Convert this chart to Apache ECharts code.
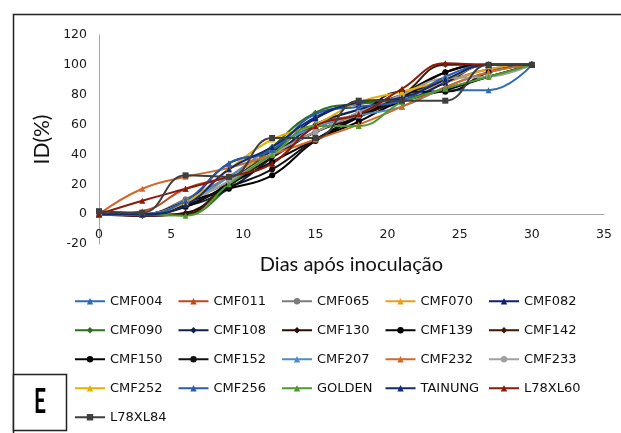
<!DOCTYPE html>
<html>
<head>
<meta charset="utf-8">
<script src="https://cdn.jsdelivr.net/npm/echarts@6/dist/echarts.min.js"></script>
<style>html,body{margin:0;padding:0;background:#fff;}#c{width:621px;height:433px;}</style>
</head>
<body>
<div id="c"></div>
<script>
const days = [0, 3, 6, 9, 12, 15, 18, 21, 24, 27, 30];
const seriesNames = ['CMF004','CMF011','CMF065','CMF070','CMF082','CMF090','CMF108','CMF130','CMF139','CMF142','CMF150','CMF152','CMF207','CMF232','CMF233','CMF252','CMF256','GOLDEN','TAINUNG','L78XL60','L78XL84'];
const seriesColors = ['#2E6DB4','#C0461A','#7B7B7B','#E3A21A','#0E1F6E','#2E6E1F','#10204A','#2A0D05','#000000','#3A1A05','#050505','#111111','#4E8CC9','#D2692A','#A0A0A0','#E5B000','#2A5CAA','#4E9A2E','#132A72','#8B1A0A','#3F3F3F'];
const CMF004 = [0, 0, 9, 22, 43, 60, 70, 76, 83, 83, 100];
const CMF011 = [0, 2, 17, 25, 34, 59, 67, 78, 95, 100, 100];
const CMF065 = [0, 0, 10, 25, 42, 55, 67, 75, 88, 97, 100];
const CMF070 = [0, 0, 5, 25, 40, 50, 67, 79, 88, 97, 100];
const CMF082 = [0, 0, 8, 34, 42, 64, 74, 76, 88, 100, 100];
const CMF090 = [0, 0, 0, 18, 45, 68, 74, 76, 84, 92, 100];
const CMF108 = [0, 0, 5, 17, 38, 60, 70, 80, 90, 100, 100];
const CMF130 = [0, -1, 1, 20, 38, 55, 65, 78, 95, 100, 100];
const CMF139 = [0, 0, 8, 17, 26, 49, 62, 76, 83, 92, 100];
const CMF142 = [0, -1, 0, 22, 40, 55, 68, 80, 100, 100, 100];
const CMF150 = [0, 0, 5, 20, 35, 50, 65, 80, 95, 100, 100];
const CMF152 = [0, 0, 6, 18, 30, 50, 66, 82, 82, 95, 100];
const CMF207 = [0, 0, 8, 25, 45, 58, 66, 72, 85, 95, 100];
const CMF232 = [0, 17, 25, 31, 40, 50, 60, 72, 85, 95, 100];
const CMF233 = [0, 0, 8, 22, 40, 55, 68, 80, 91, 92, 100];
const CMF252 = [0, 0, 8, 30, 50, 60, 75, 82, 90, 100, 100];
const CMF256 = [0, 0, 9, 34, 43, 67, 72, 76, 92, 100, 100];
const GOLDEN = [0, 0, -1, 20, 40, 59, 59, 75, 84, 92, 100];
const TAINUNG = [0, 0, 6, 30, 45, 65, 75, 78, 90, 100, 100];
const L78XL60 = [0, 9, 17, 25, 34, 59, 67, 84, 101, 100, 100];
const L78XL84 = [2, 1, 26, 25, 51, 51, 76, 76, 76, 100, 100];
const seriesValues = [CMF004,CMF011,CMF065,CMF070,CMF082,CMF090,CMF108,CMF130,CMF139,CMF142,CMF150,CMF152,CMF207,CMF232,CMF233,CMF252,CMF256,GOLDEN,TAINUNG,L78XL60,L78XL84];
const xTicks = [0, 5, 10, 15, 20, 25, 30, 35];
const yTicks = [-20, 0, 20, 40, 60, 80, 100, 120];

const FONT = '"DejaVu Sans", sans-serif';
const FONT2 = '"Lato", sans-serif';
const symbols = ['triangle','triangle','circle','triangle','triangle','diamond','diamond','diamond','circle','diamond','circle','circle','triangle','triangle','circle','triangle','triangle','triangle','triangle','triangle','rect'];

const chart = echarts.init(document.getElementById('c'), null, {renderer: 'canvas'});
const series = seriesNames.map((n, i) => ({
  name: n,
  type: 'line',
  smooth: 0.45,
  data: days.map((d, j) => [d, seriesValues[i][j]]),
  symbol: symbols[i],
  symbolSize: 6,
  showSymbol: true,
  lineStyle: {width: 2, color: seriesColors[i]},
  itemStyle: {color: seriesColors[i]},
  emphasis: {disabled: true}
}));

chart.setOption({
  animation: false,
  backgroundColor: '#fff',
  grid: {left: 99, right: 17, top: 35, height: 209, containLabel: false},
  xAxis: {
    type: 'value', min: xTicks[0], max: xTicks[xTicks.length - 1], interval: 5,
    axisLine: {onZero: true, lineStyle: {color: '#A6A6A6', width: 1}},
    axisTick: {show: false},
    splitLine: {show: false},
    axisLabel: {margin: -16, color: '#1a1a1a', fontSize: 12.5, fontFamily: FONT},
    name: 'Dias após inoculação', nameLocation: 'middle', nameGap: 11,
    nameTextStyle: {fontSize: 20, color: '#111', fontFamily: FONT2, verticalAlign: 'top'}
  },
  yAxis: {
    type: 'value', min: yTicks[0], max: yTicks[yTicks.length - 1], interval: 20,
    axisLine: {show: true, onZero: false, lineStyle: {color: '#A6A6A6', width: 1}},
    axisTick: {show: false},
    splitLine: {show: false},
    axisLabel: {margin: 12, color: '#1a1a1a', fontSize: 12.5, fontFamily: FONT},
    name: 'ID(%)', nameLocation: 'middle', nameGap: 36,
    nameTextStyle: {fontSize: 21, color: '#111', fontFamily: FONT2}
  },
  legend: {
    left: 69, top: 285, width: 515,
    itemWidth: 30, itemHeight: 8, itemGap: 6.5,
    textStyle: {fontSize: 13, color: '#111', fontFamily: FONT, width: 61, overflow: 'truncate', ellipsis: '', lineHeight: 22.5},
    data: seriesNames
  },
  graphic: [
    {type: 'rect', silent: true, z: -1, shape: {x: 13.5, y: 14.5, width: 700, height: 500}, style: {fill: 'none', stroke: '#222', lineWidth: 1.5}},
    {type: 'rect', silent: true, z: 100, shape: {x: 13.5, y: 374.5, width: 53, height: 56}, style: {fill: '#fff', stroke: '#222', lineWidth: 1.5}},
    {type: 'text', silent: true, z: 101, x: 40, y: 402, scaleX: 0.62, style: {text: 'E', fontSize: 34, fontWeight: 'bold', fontFamily: FONT2, fill: '#000', align: 'center', verticalAlign: 'middle'}}
  ],
  series: series
});
</script>
</body>
</html>
